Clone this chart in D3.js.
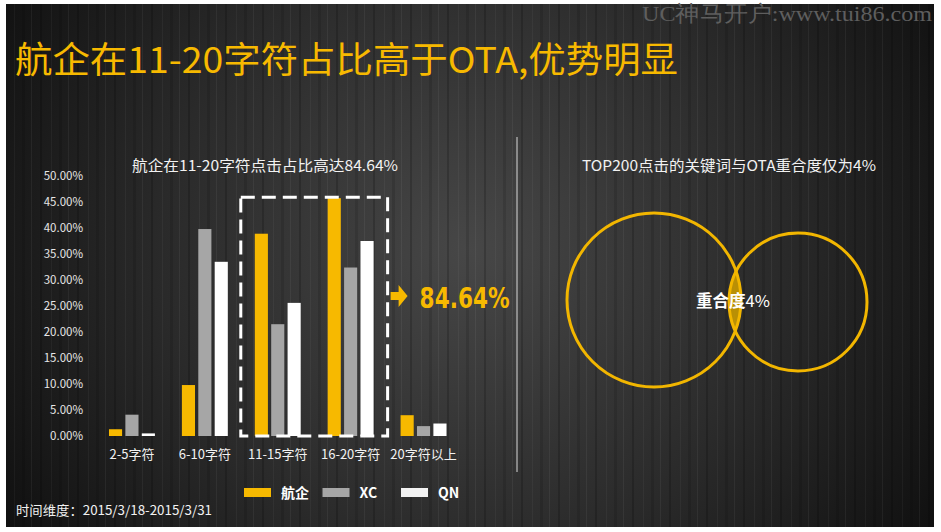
<!DOCTYPE html>
<html>
<head>
<meta charset="utf-8">
<script src="https://cdn.jsdelivr.net/npm/d3@7"></script>
<style>
  html, body { margin: 0; padding: 0; background: #fff; }
  svg { display: block; }
</style>
</head>
<body>
<script>
// data
const categories = ["2-5字符", "6-10字符", "11-15字符", "16-20字符", "20字符以上"];
const seriesNames = ["航企", "XC", "QN"];
const hangqi = [1.3, 9.8, 38.9, 45.74, 4.0];
const xc = [4.1, 39.8, 21.5, 32.4, 1.9];
const qn = [0.5, 33.5, 25.6, 37.5, 2.4];
const yTicks = [0, 5, 10, 15, 20, 25, 30, 35, 40, 45, 50];
const highlight = ["11-15字符", "16-20字符"];
const highlightLabel = "84.64%";
const overlapText = "4%";

const W = 941, H = 532;
const colors = ["#f7b900", "#a6a6a6", "#ffffff"];
const cjk = "'Noto Sans CJK SC', 'Microsoft YaHei', sans-serif";

const svg = d3.select("body").append("svg")
    .attr("width", W)
    .attr("height", H);

const defs = svg.append("defs");
const bg = defs.append("radialGradient").attr("id", "bg")
    .attr("gradientUnits", "userSpaceOnUse")
    .attr("cx", 470).attr("cy", 250).attr("r", 560);
bg.append("stop").attr("offset", "0%").attr("stop-color", "#474747");
bg.append("stop").attr("offset", "55%").attr("stop-color", "#2a2a2a");
bg.append("stop").attr("offset", "100%").attr("stop-color", "#0e0e0e");

// faint wood grain
const grain = defs.append("pattern").attr("id", "grain")
    .attr("patternUnits", "userSpaceOnUse")
    .attr("width", 37).attr("height", 532);
grain.append("rect").attr("x", 3).attr("width", 2).attr("height", 532).attr("fill", "#000").attr("opacity", 0.18);
grain.append("rect").attr("x", 14).attr("width", 1).attr("height", 532).attr("fill", "#fff").attr("opacity", 0.04);
grain.append("rect").attr("x", 22).attr("width", 3).attr("height", 532).attr("fill", "#000").attr("opacity", 0.12);
grain.append("rect").attr("x", 31).attr("width", 1).attr("height", 532).attr("fill", "#fff").attr("opacity", 0.05);

svg.append("rect").attr("x", 6).attr("y", 4).attr("width", 928).attr("height", 523).attr("fill", "url(#bg)");
svg.append("rect").attr("x", 6).attr("y", 4).attr("width", 928).attr("height", 523).attr("fill", "url(#grain)");

// watermark
svg.append("text")
    .attr("x", 642).attr("y", 21)
    .attr("font-family", "'Liberation Serif', 'DejaVu Serif', serif")
    .attr("font-size", 22)
    .attr("textLength", 290)
    .attr("lengthAdjust", "spacingAndGlyphs")
    .attr("fill", "#5e5e5e")
    .text("UC神马开户:www.tui86.com");

// main title
svg.append("text")
    .attr("x", 15).attr("y", 73)
    .attr("font-family", cjk)
    .attr("font-size", 36)
    .attr("textLength", 663)
    .attr("lengthAdjust", "spacingAndGlyphs")
    .attr("fill", "#f7b900")
    .text("航企在11-20字符占比高于OTA,优势明显");

// ---------- bar chart ----------
const x = d3.scaleBand()
    .domain(categories)
    .range([95.5, 460])
    .paddingInner(0.37)
    .paddingOuter(0.185);

const xs = d3.scaleBand()
    .domain(seriesNames)
    .range([0, x.bandwidth()])
    .paddingInner(0.2);

const y = d3.scaleLinear()
    .domain([0, 50])
    .range([436, 176]);

svg.append("text")
    .attr("x", 265).attr("y", 171)
    .attr("text-anchor", "middle")
    .attr("font-family", cjk)
    .attr("font-size", 15)
    .attr("textLength", 266)
    .attr("lengthAdjust", "spacingAndGlyphs")
    .attr("fill", "#f2f2f2")
    .text("航企在11-20字符点击占比高达84.64%");

const yAxis = svg.append("g")
    .attr("transform", "translate(89,0)")
    .call(d3.axisLeft(y).tickValues(yTicks).tickSize(0).tickPadding(6)
        .tickFormat(d => d.toFixed(2) + "%"));
yAxis.select(".domain").remove();
yAxis.selectAll("text")
    .attr("font-family", cjk)
    .attr("font-size", 11.5)
    .attr("fill", "#e6e6e6");

const series = [hangqi, xc, qn];
const groups = svg.append("g").selectAll("g")
    .data(categories)
    .join("g")
    .attr("transform", d => `translate(${x(d)},0)`);

groups.selectAll("rect")
    .data((d, i) => seriesNames.map((s, j) => ({ s, v: series[j][i], c: colors[j] })))
    .join("rect")
    .attr("x", d => xs(d.s))
    .attr("width", xs.bandwidth())
    .attr("y", d => y(d.v))
    .attr("height", d => y(0) - y(d.v))
    .attr("fill", d => d.c);

const xAxis = svg.append("g")
    .attr("transform", "translate(0,436)")
    .call(d3.axisBottom(x).tickSize(0).tickPadding(14));
xAxis.select(".domain").remove();
xAxis.selectAll("text")
    .attr("font-family", cjk)
    .attr("font-size", 13)
    .attr("fill", "#f2f2f2");

// dashed highlight box
const bx0 = x(highlight[0]) - 14;
const bx1 = x(highlight[1]) + x.bandwidth() + 14;
const by0 = y(d3.max(highlight.map(c => hangqi[categories.indexOf(c)]))) - 1;
svg.append("rect")
    .attr("x", bx0).attr("y", by0)
    .attr("width", bx1 - bx0).attr("height", y(0) - by0)
    .attr("fill", "none")
    .attr("stroke", "#fff")
    .attr("stroke-width", 3)
    .attr("stroke-dasharray", "14,7");

// arrow + figure
const ay = 296;
svg.append("path")
    .attr("d", `M${bx1 + 3},${ay - 4} h8 v-7 l9,11 l-9,11 v-7 h-8 z`)
    .attr("fill", "#f7b900");
svg.append("text")
    .attr("x", bx1 + 32).attr("y", 308)
    .attr("font-family", "'Liberation Sans Narrow', 'DejaVu Sans Condensed', sans-serif")
    .attr("font-weight", "bold")
    .attr("font-size", 29)
    .attr("textLength", 90)
    .attr("lengthAdjust", "spacingAndGlyphs")
    .attr("fill", "#f7b900")
    .text(highlightLabel);

// legend
const legend = svg.append("g").selectAll("g")
    .data(seriesNames)
    .join("g")
    .attr("transform", (d, i) => `translate(${244 + i * 78.5},488)`);
legend.append("rect")
    .attr("width", 27).attr("height", 9)
    .attr("fill", (d, i) => colors[i] === "#ffffff" ? "#f2f2f2" : colors[i]);
legend.append("text")
    .attr("x", 37).attr("y", 10)
    .attr("font-family", cjk)
    .attr("font-weight", "bold")
    .attr("font-size", 14)
    .attr("fill", "#fff")
    .text(d => d);

// footer
svg.append("text")
    .attr("x", 16).attr("y", 515)
    .attr("font-family", cjk)
    .attr("font-size", 13)
    .attr("textLength", 196)
    .attr("lengthAdjust", "spacingAndGlyphs")
    .attr("fill", "#f2f2f2")
    .text("时间维度：2015/3/18-2015/3/31");

// divider
svg.append("line")
    .attr("x1", 517).attr("x2", 517)
    .attr("y1", 137).attr("y2", 472)
    .attr("stroke", "#d9d9d9")
    .attr("stroke-width", 1);

// ---------- venn ----------
svg.append("text")
    .attr("x", 729).attr("y", 171)
    .attr("text-anchor", "middle")
    .attr("font-family", cjk)
    .attr("font-size", 15)
    .attr("textLength", 294)
    .attr("lengthAdjust", "spacingAndGlyphs")
    .attr("fill", "#f2f2f2")
    .text("TOP200点击的关键词与OTA重合度仅为4%");

const c1 = { x: 654, y: 300, r: 87 };
const c2 = { x: 798, y: 302, r: 69 };

defs.append("clipPath").attr("id", "clipA")
    .append("circle").attr("cx", c1.x).attr("cy", c1.y).attr("r", c1.r);
svg.append("circle")
    .attr("cx", c2.x).attr("cy", c2.y).attr("r", c2.r)
    .attr("clip-path", "url(#clipA)")
    .attr("fill", "#c99a00")
    .attr("opacity", 0.9);

svg.selectAll("circle.ring")
    .data([c1, c2])
    .join("circle")
    .attr("class", "ring")
    .attr("cx", d => d.x).attr("cy", d => d.y).attr("r", d => d.r)
    .attr("fill", "none")
    .attr("stroke", "#f2b600")
    .attr("stroke-width", 3);

const vt = svg.append("text")
    .attr("x", 733).attr("y", 307)
    .attr("text-anchor", "middle")
    .attr("font-family", cjk)
    .attr("font-size", 16.5)
    .attr("fill", "#fff");
vt.append("tspan").attr("font-weight", "bold").text("重合度");
vt.append("tspan").text(overlapText);
</script>
</body>
</html>
